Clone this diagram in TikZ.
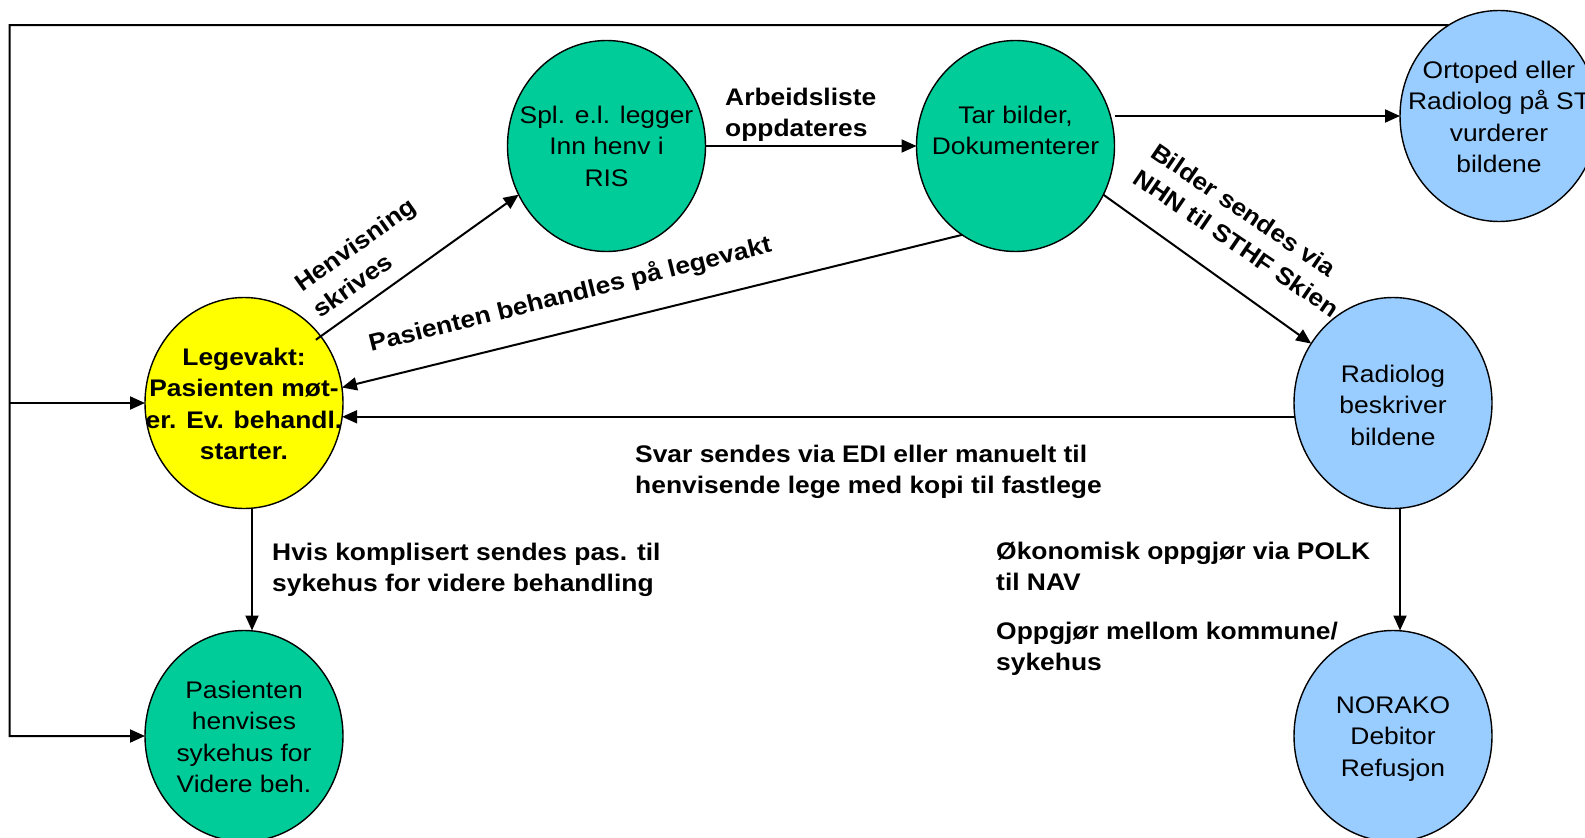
\documentclass[tikz,border=0pt]{standalone}
\usepackage{fontspec}
\setmainfont{Liberation Sans}[FakeStretch=1.1]
\usetikzlibrary{arrows.meta,shapes.geometric}
\definecolor{cgreen}{RGB}{0,204,153}
\definecolor{cblue}{RGB}{153,204,255}
\definecolor{cyellow}{RGB}{255,255,0}
\newcommand{\mlines}[2]{\begin{tabular}[t]{@{}#1@{}}#2\end{tabular}}
\begin{document}
\begin{tikzpicture}[x=1pt,y=-1pt,
  ell/.style={ellipse, draw=black, line width=1.4pt, minimum width=198pt, minimum height=211pt, inner sep=0pt, outer sep=0pt},
  ntext/.style={anchor=base, inner sep=0pt, font=\fontsize{24}{31.6}\selectfont},
  lbl/.style={anchor=base west, inner sep=0pt, font=\fontsize{24}{31.6}\selectfont\bfseries},
  conn/.style={line width=2pt, draw=black},
  arr/.style={conn, -{Triangle[length=15pt,width=13pt]}}]
\useasboundingbox (0,0) rectangle (1585,838);
\fill[white] (0,0) rectangle (1585,838);

% ellipses
\node[ell, fill=cyellow] (leg) at (244,403) {};
\node[ell, fill=cgreen] (spl) at (606.5,146) {};
\node[ell, fill=cgreen] (tar) at (1015.5,146) {};
\node[ell, fill=cblue] (ort) at (1499,116) {};
\node[ell, fill=cblue] (rad) at (1393,403) {};
\node[ell, fill=cblue] (nor) at (1393,736) {};
\node[ell, fill=cgreen] (pas) at (244,736) {};

% connectors
\coordinate (ctop) at (9.5,25);
\coordinate (cbot) at (9.5,736);
\draw[arr] (ort.119) -- (ctop) -- (cbot) -- (pas.west);
\draw[arr] (ctop |- leg.west) -- (leg.west);
\draw[arr, shorten <=-6pt] (leg.41) -- (spl.209);
\draw[arr] (spl.east) -- (tar.west);
\draw[arr] (tar.east |- ort.west) -- (ort.west);
\draw[arr] (tar.239) -- (leg.9);
\draw[arr] (tar.-29) -- (rad.144);
\draw[arr] (rad.188.5) -- (rad.188.5 -| leg.-8);
\draw[arr] ([xshift=8pt]leg.south) -- ([xshift=8pt]pas.north);
\draw[arr] ([xshift=7pt]rad.south) -- ([xshift=7pt]nor.north);

% node texts
\node[ntext, font=\fontsize{24}{31.6}\selectfont\bfseries] (legt) at (244,365) {\mlines{c}{Legevakt:\\Pasienten møt-\\er. Ev. behandl.\\starter.}};
\node[ntext] (splt) at (606.5,123) {\mlines{c}{Spl. e.l. legger\\Inn henv i\\RIS}};
\node[ntext] (tart) at (1015.5,123) {\mlines{c}{Tar bilder,\\Dokumenterer}};
\node[ntext] (ortt) at (1499,78) {\mlines{c}{Ortoped eller\\Radiolog på ST\\vurderer\\bildene}};
\node[ntext] (radt) at (1393,382) {\mlines{c}{Radiolog\\beskriver\\bildene}};
\node[ntext] (nort) at (1393,713) {\mlines{c}{NORAKO\\Debitor\\Refusjon}};
\node[ntext] (past) at (244,698) {\mlines{c}{Pasienten\\henvises\\sykehus for\\Videre beh.}};

% labels
\node[lbl] (l1) at (725,105) {\mlines{l}{Arbeidsliste\\oppdateres}};
\node[lbl, rotate=35.5] (l2) at (302,293) {\mlines{l}{Henvisning\\skrives}};
\node[lbl, rotate=14] (l3) at (371,352) {Pasienten behandles på legevakt};
\node[lbl, rotate=-34.2] (l4) at (1149,156) {\mlines{l}{Bilder sendes via\\NHN til STHF Skien}};
\node[lbl] (l5) at (635,462) {\mlines{l}{Svar sendes via EDI eller manuelt til\\henvisende lege med kopi til fastlege}};
\node[lbl] (l6) at (272,560) {\mlines{l}{Hvis komplisert sendes pas. til\\sykehus for videre behandling}};
\node[lbl] (l7) at (996,559) {\mlines{l}{Økonomisk oppgjør via POLK\\til NAV}};
\node[lbl] (l8) at (996,639) {\mlines{l}{Oppgjør mellom kommune/\\sykehus}};
\end{tikzpicture}
\end{document}
